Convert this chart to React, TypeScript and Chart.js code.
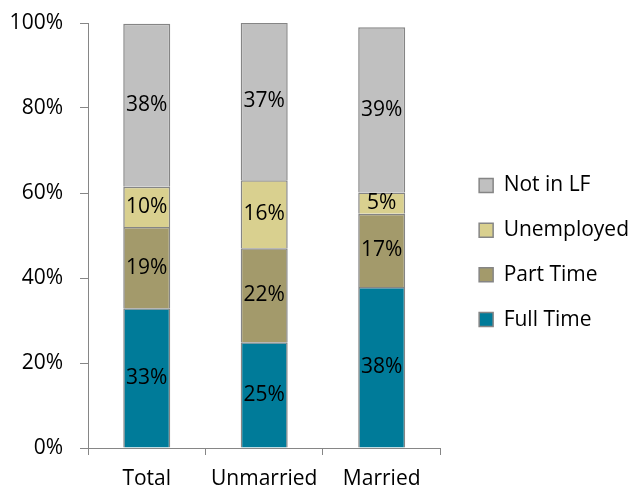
import React, { useEffect, useRef } from "react";
import { Chart, registerables } from "chart.js";

Chart.register(...registerables);

const categories = ["Total", "Unmarried", "Married"];
const fullTime = [32.9, 24.9, 37.9];
const partTime = [19.1, 22.1, 17.2];
const unemployed = [9.5, 16.0, 5.0];
const notInLF = [38.3, 37.1, 38.9];
const yTicks = [0, 20, 40, 60, 80, 100];

const FONT = "'Open Sans', sans-serif";

const labelPlugin = {
  id: "segLabels",
  afterDatasetsDraw(chart: any) {
    const ctx = chart.ctx;
    ctx.save();
    ctx.font = `21px ${FONT}`;
    ctx.fillStyle = "#000";
    ctx.textAlign = "center";
    ctx.textBaseline = "middle";
    chart.data.datasets.forEach((ds: any, di: number) => {
      const meta = chart.getDatasetMeta(di);
      meta.data.forEach((el: any, i: number) => {
        const v = ds.data[i];
        const y = (el.y + el.base) / 2;
        ctx.fillText(Math.round(v) + "%", el.x, y);
      });
    });
    ctx.restore();
  },
};

export default function App() {
  const ref = useRef<HTMLCanvasElement>(null);
  useEffect(() => {
    const border = "#858585";
    const chart = new Chart(ref.current!, {
      type: "bar",
      data: {
        labels: categories,
        datasets: [
          { label: "Full Time", data: fullTime, backgroundColor: "#007B99", borderColor: border, borderWidth: 1.5 },
          { label: "Part Time", data: partTime, backgroundColor: "#A39A6B", borderColor: border, borderWidth: 1.5 },
          { label: "Unemployed", data: unemployed, backgroundColor: "#D9D08F", borderColor: border, borderWidth: 1.5 },
          { label: "Not in LF", data: notInLF, backgroundColor: "#C0C0C0", borderColor: border, borderWidth: 1.5 },
        ],
      },
      options: {
        animation: false,
        responsive: false,
        maintainAspectRatio: false,
        layout: { padding: { top: 16, right: -10, bottom: 0, left: 0 } },
        datasets: { bar: { barPercentage: 0.4, categoryPercentage: 1 } } as any,
        scales: {
          x: {
            stacked: true,
            grid: { drawOnChartArea: false, drawTicks: true, tickLength: 7, color: "#868686", offset: true },
            border: { display: true, color: "#868686", width: 1 },
            ticks: { color: "#000", font: { family: FONT, size: 21, lineHeight: 0.95 }, padding: 14, maxRotation: 0 },
            afterFit: (scale: any) => {
              scale.height = 41;
              scale.paddingLeft = 0;
              scale.paddingRight = 0;
            },
          },
          y: {
            stacked: true,
            min: 0,
            max: 100,
            afterBuildTicks: (scale: any) => {
              scale.ticks = yTicks.map((v) => ({ value: v }));
            },
            afterFit: (scale: any) => {
              scale.width = 88;
              scale.paddingTop = 23;
              scale.paddingBottom = 0;
            },
            grid: { drawOnChartArea: false, drawTicks: true, tickLength: 8, color: "#868686" },
            border: { display: true, color: "#868686", width: 1 },
            ticks: {
              color: "#000",
              font: { family: FONT, size: 21 },
              padding: 17,
              callback: (v: any) => v + "%",
            },
          },
          y2: {
            position: "right",
            display: true,
            grid: { display: false, drawTicks: false },
            border: { display: false },
            ticks: { display: false },
            afterFit: (scale: any) => {
              scale.width = 15;
              scale.paddingTop = 0;
              scale.paddingBottom = 0;
            },
          },
        },
        plugins: {
          legend: {
            position: "right",
            reverse: true,
            maxWidth: 400,
            labels: {
              boxWidth: 14,
              boxHeight: 14,
              padding: 23.7,
              color: "#000",
              font: { family: FONT, size: 21 },
            },
          },
          tooltip: { enabled: false },
        },
      },
      plugins: [labelPlugin],
    } as any);
    return () => chart.destroy();
  }, []);
  return (
    <div style={{ position: "fixed", left: 0, top: 0, width: 629, height: 489, background: "#fff" }}>
      <canvas ref={ref} width={629} height={489} style={{ width: 629, height: 489 }} />
    </div>
  );
}
